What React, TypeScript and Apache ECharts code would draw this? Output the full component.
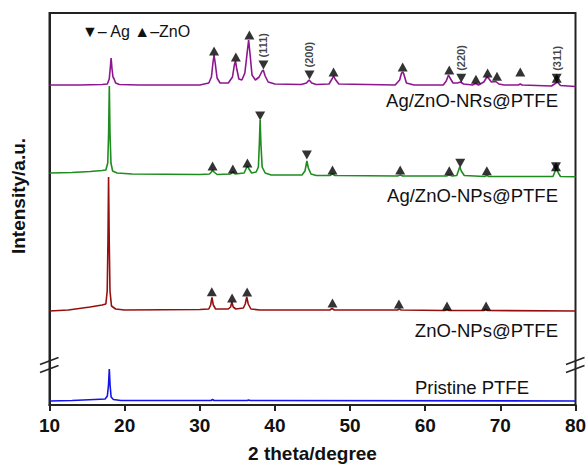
import React, { useEffect, useRef } from "react";
import * as echarts from "echarts";

// ---------- axis ----------
const xMin = 10;
const xMax = 80;
const xInterval = 10;
const yMin = 0;
const yMax = 392;
const breakValue = 40.5; // y value where the axis break is drawn

// ---------- traces (2θ, intensity above the trace's own baseline) ----------
const seriesNames = ["Ag/ZnO-NRs@PTFE", "Ag/ZnO-NPs@PTFE", "ZnO-NPs@PTFE", "Pristine PTFE"];
const seriesColors = ["#8E1590", "#1E8C1E", "#960F0F", "#1414E6"];
const offsets = [320, 232, 94, 4];

const nrsTrace = [
  [10, 0], [14, 0], [17, 0.5], [17.7, 1], [17.95, 6], [18.1, 18], [18.2, 27], [18.32, 16], [18.45, 8], [18.6, 6], [18.8, 2], [19.3, 0.5], [22, 0],
  [30, 0], [31.2, 2], [31.55, 8], [31.75, 22], [31.9, 30], [32.05, 22], [32.3, 7], [32.7, 2],
  [33.8, 2], [34.35, 8], [34.6, 20], [34.75, 24], [34.9, 17], [35.2, 6], [35.6, 5],
  [36.0, 12], [36.3, 32], [36.5, 45], [36.7, 30], [36.95, 10], [37.4, 5], [37.9, 8], [38.3, 14], [38.45, 15], [38.7, 9], [39.1, 3], [40, 1],
  [43.5, 0.5], [44.2, 2], [44.55, 5], [44.9, 2], [45.5, 0.5],
  [47.2, 1], [47.6, 6], [47.8, 9], [48.0, 6], [48.5, 1],
  [56.0, 0], [56.6, 5], [56.85, 12], [57.0, 13], [57.15, 11], [57.5, 2], [58.5, 0],
  [62.4, 0], [62.8, 4], [63.1, 10], [63.3, 7], [63.7, 2], [64.3, 2], [64.7, 3], [65.1, 1],
  [66.3, 0], [66.7, 1.5], [67.1, 0], [67.8, 3], [68.2, 8], [68.4, 7], [68.8, 3], [69.4, 3.5], [69.8, 1], [70.5, 0],
  [72.4, 0], [72.65, 1], [72.9, 0], [76.8, -1], [77.4, 2], [77.6, 3], [78, -0.5], [80, -1.5],
];

const npsTrace = [
  [10, 0], [13, 0.5], [15.4, 1.5], [17, 2.5], [17.5, 3], [17.75, 10], [17.87, 40], [17.96, 87], [18.05, 40], [18.18, 10], [18.4, 2], [19, 0],
  [21, -1], [30, -1.5], [31.3, -1], [31.55, 1], [31.7, 3], [31.9, 1], [32.3, -1.5],
  [34.1, -1], [34.4, 1.3], [34.7, -1], [35.9, 0], [36.2, 5], [36.35, 7], [36.55, 4], [36.9, 0],
  [37.5, 1], [37.8, 6], [37.93, 30], [38.03, 53], [38.13, 30], [38.3, 6], [38.7, 0], [39.5, -2],
  [43.6, -2], [44.0, 2], [44.25, 12], [44.45, 5], [44.8, -1], [45.5, -2.5],
  [47.3, -2.5], [47.65, -1], [48, -2.5], [56.3, -3], [56.7, -2], [57, -3],
  [62.8, -3], [63.2, -2], [63.6, -3], [64.2, -2.5], [64.45, 3], [64.6, 6.3], [64.8, 2], [65.2, -2.5],
  [67.9, -3.5], [68.2, -2.5], [68.5, -3.5], [77, -3.5], [77.3, 2], [77.45, 4.7], [77.65, 1], [78, -3.5], [80, -3.7],
];

const znoTrace = [
  [10, 0], [12.5, 1], [15.4, 4], [17, 6], [17.5, 7], [17.68, 20], [17.78, 70], [17.86, 134], [17.95, 70], [18.05, 20], [18.25, 5], [18.8, 2], [20, 1],
  [30, 1.5], [31.2, 2], [31.45, 6], [31.62, 13.7], [31.8, 6], [32.1, 2],
  [33.8, 2], [34.1, 4], [34.27, 9], [34.45, 4], [34.8, 2], [35.8, 3], [36.05, 7], [36.25, 14], [36.45, 7], [36.8, 2], [38, 1],
  [47.3, 1], [47.6, 2.5], [47.9, 1], [56.3, 1], [56.55, 2], [56.8, 1],
  [62.6, 0.5], [62.9, 1.5], [63.2, 0.5], [67.8, 0.5], [68.05, 1.5], [68.3, 0.5], [80, 0],
];

const ptfeTrace = [
  [10, 0], [13, 0.5], [16, 1.5], [17.4, 2], [17.7, 5], [17.85, 16], [17.96, 32], [18.06, 16], [18.2, 4], [18.5, 1.5], [19.5, 0.5],
  [31.5, 0.5], [31.7, 1.5], [31.9, 0.5], [36.3, 0.5], [36.5, 1], [36.7, 0.5], [80, 0],
];

const traces = [nrsTrace, npsTrace, znoTrace, ptfeTrace];

// ---------- phase markers (2θ, height above baseline, hkl) ----------
const nrsZnO = [[31.9, 34], [34.8, 28], [36.6, 50], [47.8, 13], [57.0, 18], [63.2, 15], [66.75, 5.7], [68.3, 12], [69.55, 8.7], [72.65, 13], [77.5, 6.7]];
const nrsAg = [[38.47, 20, "(111)"], [44.6, 10, "(200)"], [64.8, 6.7, "(220)"], [77.5, 6.7, "(311)"]];
const npsZnO = [[31.7, 7], [34.4, 4], [36.34, 10], [47.66, 3], [56.67, 3], [63.2, 2.3], [68.2, 2.3], [77.4, 6.3]];
const npsAg = [[38.03, 57], [44.25, 18], [64.66, 9.7], [77.4, 6.3]];
const znoZnO = [[31.6, 19.3], [34.3, 13], [36.3, 19], [47.66, 8], [56.5, 7], [62.9, 5], [68.1, 5]];

const znoMarkerSets = [nrsZnO, npsZnO, znoZnO, []];
const agMarkerSets = [nrsAg, npsAg, [], []];

const legendText = "▼– Ag ▲–ZnO";
const xTitle = "2 theta/degree";
const yTitle = "Intensity/a.u.";

const FONT = "Liberation Sans, Arial, Helvetica, sans-serif";
const W = 587;
const H = 464;

export default function App() {
  const ref = useRef<HTMLDivElement>(null);

  useEffect(() => {
    if (!ref.current) return;
    const chart = echarts.init(ref.current, undefined, { renderer: "svg", width: W, height: H });

    const series: any[] = [];
    traces.forEach((tr, i) => {
      series.push({
        type: "line",
        name: seriesNames[i],
        data: tr.map((p) => [p[0], p[1] + offsets[i]]),
        showSymbol: false,
        symbol: "none",
        smooth: false,
        lineStyle: { color: seriesColors[i], width: 1.6 },
        z: 2,
      });
    });
    znoMarkerSets.forEach((set, i) => {
      if (!set.length) return;
      series.push({
        type: "scatter",
        data: set.map((p) => [p[0], (p[1] as number) + offsets[i]]),
        symbol: "triangle",
        symbolSize: [10, 9],
        itemStyle: { color: "#000" },
        z: 5,
      });
    });
    agMarkerSets.forEach((set, i) => {
      if (!set.length) return;
      series.push({
        type: "scatter",
        data: set.map((p) => [p[0], (p[1] as number) + offsets[i], p[2] || ""]),
        symbol: "triangle",
        symbolRotate: 180,
        symbolSize: [10, 9],
        itemStyle: { color: "#000" },
        label: {
          show: true,
          formatter: (pr: any) => pr.data[2] || "",
          position: "top",
          distance: 3,
          rotate: 90,
          align: "left",
          verticalAlign: "middle",
          fontSize: 11,
          fontWeight: "bold",
          fontFamily: FONT,
          color: "#111",
        },
        z: 5,
      });
    });

    const option: any = {
      animation: false,
      backgroundColor: "#fff",
      grid: {
        left: 49.5,
        right: 11.5,
        top: 13,
        bottom: 59,
        outerBoundsMode: "none",
        containLabel: false,
        show: true,
        borderColor: "#222",
        borderWidth: 2,
        backgroundColor: "transparent",
      },
      xAxis: {
        type: "value",
        min: xMin,
        max: xMax,
        interval: xInterval,
        name: xTitle,
        nameLocation: "middle",
        nameGap: 39,
        nameTextStyle: { fontSize: 19, fontWeight: "bold", fontFamily: FONT, color: "#111" },
        axisLine: { show: true, lineStyle: { color: "#222", width: 2 } },
        axisTick: { show: true, length: 6, inside: false, lineStyle: { color: "#222", width: 2 } },
        axisLabel: { fontSize: 19, fontWeight: "bold", fontFamily: FONT, color: "#111", margin: 11 },
        splitLine: { show: false },
      },
      yAxis: {
        type: "value",
        min: yMin,
        max: yMax,
        axisLine: { show: true, lineStyle: { color: "#222", width: 2 } },
        axisTick: { show: false },
        axisLabel: { show: false },
        splitLine: { show: false },
      },
      series,
    };
    chart.setOption(option);

    const bl = chart.convertToPixel({ gridIndex: 0 }, [xMin, breakValue]) as number[];
    const br = chart.convertToPixel({ gridIndex: 0 }, [xMax, breakValue]) as number[];
    const slash = (cx: number, cy: number) => [
      { type: "line", shape: { x1: cx - 9.5, y1: cy + 0, x2: cx + 9, y2: cy - 7 }, style: { stroke: "#222", lineWidth: 1.5 }, z: 10 },
      { type: "line", shape: { x1: cx - 9.5, y1: cy + 8, x2: cx + 9, y2: cy + 1 }, style: { stroke: "#222", lineWidth: 1.5 }, z: 10 },
    ];
    const labelY = [100, 195, 330, 387];
    const labelRight = [558, 558, 558, 529];
    const graphic: any[] = [
      ...slash(bl[0], bl[1]),
      ...slash(br[0], br[1]),
      {
        type: "text",
        x: 82,
        y: 31,
        style: { text: legendText, font: `16px ${FONT}`, fill: "#111", textAlign: "left", textVerticalAlign: "middle" },
        z: 10,
      },
      {
        type: "text",
        x: 18,
        y: 196,
        rotation: Math.PI / 2,
        style: { text: yTitle, font: `bold 19px ${FONT}`, fill: "#111", textAlign: "center", textVerticalAlign: "middle" },
        z: 10,
      },
      ...seriesNames.map((n, i) => ({
        type: "text",
        x: labelRight[i],
        y: labelY[i],
        style: { text: n, font: `18.5px ${FONT}`, fill: "#111", textAlign: "right", textVerticalAlign: "middle" },
        z: 10,
      })),
    ];
    chart.setOption({ graphic });

    return () => chart.dispose();
  }, []);

  return <div ref={ref} style={{ position: "fixed", left: 0, top: 0, width: W, height: H }} />;
}
